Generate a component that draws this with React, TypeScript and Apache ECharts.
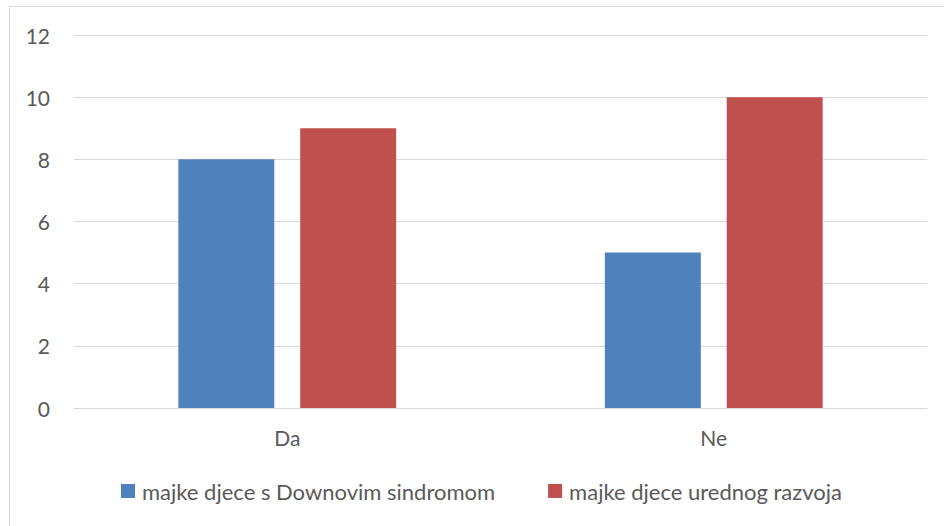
import React, { useEffect, useRef } from "react";
import * as echarts from "echarts";

const categories = ["Da", "Ne"];
const seriesNames = ["majke djece s Downovim sindromom", "majke djece urednog razvoja"];
const downValues = [8, 5];
const urednogValues = [9, 10];
const colors = ["#4F81BD", "#C0504D"];

export default function App() {
  const ref = useRef<HTMLDivElement>(null);
  useEffect(() => {
    if (!ref.current) return;
    const chart = echarts.init(ref.current, null, { renderer: "svg" });
    const font = "Lato, 'Open Sans', sans-serif";
    chart.setOption({
      animation: false,
      backgroundColor: "#ffffff",
      grid: { left: 74, right: 17, top: 35, bottom: 118, containLabel: false },
      legend: {
        bottom: 19,
        left: 116,
        itemWidth: 14,
        itemHeight: 14,
        itemGap: 53,
        icon: "rect",
        textStyle: { color: "#595959", fontSize: 22, fontFamily: font, padding: [0, 0, 0, 2] },
        data: seriesNames,
      },
      xAxis: {
        type: "category",
        data: categories,
        axisLine: { show: true, lineStyle: { color: "#d9d9d9", width: 1 } },
        axisTick: { show: false },
        axisLabel: { color: "#595959", fontSize: 21, fontFamily: font, margin: 19 },
      },
      yAxis: {
        type: "value",
        min: 0,
        max: 12,
        interval: 2,
        axisLine: { show: false },
        axisTick: { show: false },
        axisLabel: { color: "#595959", fontSize: 21, fontFamily: font, margin: 24 },
        splitLine: { lineStyle: { color: "#d9d9d9", width: 1 } },
      },
      series: [
        {
          name: seriesNames[0],
          type: "bar",
          data: downValues,
          barWidth: "22.5%",
          barGap: "27%",
          itemStyle: { color: colors[0] },
        },
        {
          name: seriesNames[1],
          type: "bar",
          data: urednogValues,
          barWidth: "22.5%",
          barGap: "27%",
          itemStyle: { color: colors[1] },
        },
      ],
      graphic: [
        { type: "line", shape: { x1: 9.5, y1: 6, x2: 9.5, y2: 526 }, style: { stroke: "#d9d9d9", lineWidth: 1 } },
        { type: "line", shape: { x1: 9.5, y1: 6.5, x2: 944, y2: 6.5 }, style: { stroke: "#d9d9d9", lineWidth: 1 } },
      ],
    });
    return () => chart.dispose();
  }, []);
  return (
    <div
      ref={ref}
      style={{ position: "fixed", left: 0, top: 0, width: 944, height: 526 }}
    />
  );
}
